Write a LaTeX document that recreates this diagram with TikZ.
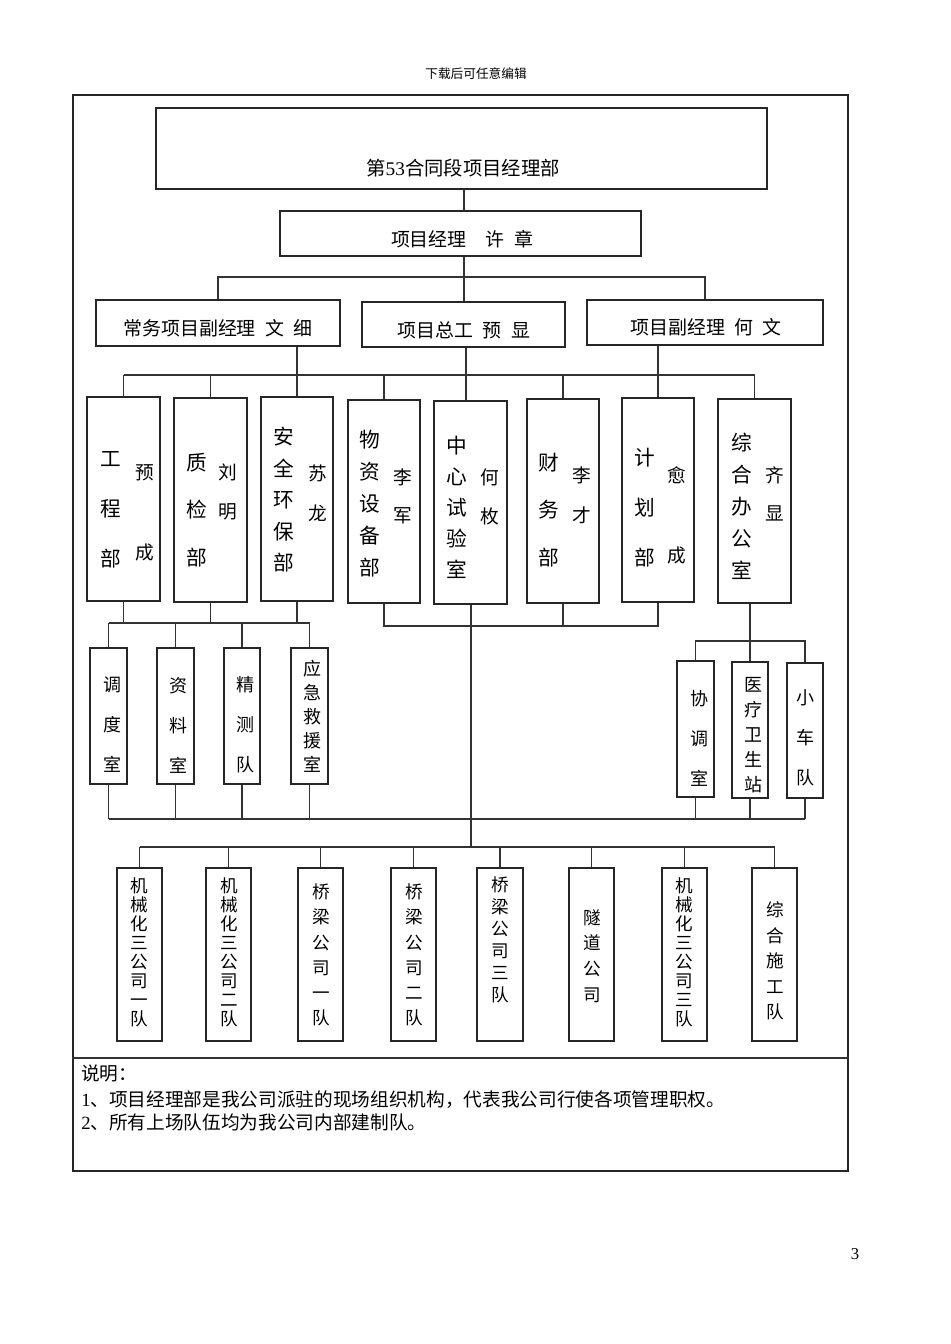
\documentclass[tikz,border=0pt]{standalone}
\usepackage{fontspec}
\setmainfont{Liberation Serif}
\newfontfamily\cjk{Noto Sans CJK SC}
\usetikzlibrary{fit}
\begin{document}
\begin{tikzpicture}[x=0.75pt,y=-0.75pt,
  box/.style={draw=black!85, line width=0.9pt, inner sep=0pt, rectangle},
  ln/.style={draw=black!80, line width=0.8pt},
  vt/.style 2 args={font=\cjk\fontsize{#1}{#2}\selectfont, align=center, inner sep=0pt},
  ht/.style={font=\cjk\fontsize{14.2}{17}\selectfont, inner sep=0pt}]
\useasboundingbox (0,0) rectangle (950,1344);
% header and page number
\node[font=\cjk\fontsize{9.5}{11}\selectfont, inner sep=0pt] (hdr) at (476,74) {下载后可任意编辑};
\node[font=\rmfamily\fontsize{12.5}{14}\selectfont, inner sep=0pt] (pg) at (855,1254) {3};
% frame
\node[box, fit={(73,95) (848,1171)}] (frame) {};
\coordinate (sep) at (0,1058);
\draw[ln] (frame.west |- sep) -- (frame.east |- sep);
% top
\node[box, fit={(156,108) (767,189)}] (T) {};
\node[font=\cjk\fontsize{14.5}{17}\selectfont, inner sep=0pt] (tT) at (463,168) {第{\rmfamily 53}合同段项目经理部};
\node[box, fit={(280,211) (641,256)}] (PM) {};
\node[ht] (tPM) at (462,239) {项目经理\hspace{1em}许\hspace{0.5em}章};
\node[box, fit={(96,300) (340,346)}] (A) {};
\node[ht] (tA) at (218,328) {常务项目副经理\hspace{0.5em}文\hspace{0.5em}细};
\node[box, fit={(362,302) (565,347)}] (B) {};
\node[ht] (tB) at (464,330) {项目总工\hspace{0.5em}预\hspace{0.5em}显};
\node[box, fit={(587,300) (823,345)}] (C) {};
\node[ht] (tC) at (706,327) {项目副经理\hspace{0.5em}何\hspace{0.5em}文};
% departments
\node[box, fit={(87,397) (160,601)}] (D1) {};
\node[box, fit={(174,398) (247,602)}] (D2) {};
\node[box, fit={(261,397) (333,601)}] (D3) {};
\node[box, fit={(348,400) (420,603)}] (D4) {};
\node[box, fit={(434,401) (507,604)}] (D5) {};
\node[box, fit={(527,399) (599,603)}] (D6) {};
\node[box, fit={(622,398) (694,602)}] (D7) {};
\node[box, fit={(718,399) (791,603)}] (D8) {};
\node[vt={15.5}{37.5}] (tD1a) at (111,510) {工\\程\\部};
\node[vt={14}{60}] (tD1b) at (145,513) {预\\成};
\node[vt={15.5}{35.6}] (tD2a) at (197,510) {质\\检\\部};
\node[vt={14}{29.25}] (tD2b) at (228,492) {刘\\明};
\node[vt={15.5}{23.6}] (tD3a) at (284,500) {安\\全\\环\\保\\部};
\node[vt={14}{30}] (tD3b) at (318,493) {苏\\龙};
\node[vt={15.5}{24}] (tD4a) at (370,504) {物\\资\\设\\备\\部};
\node[vt={14}{28.5}] (tD4b) at (403,496) {李\\军};
\node[vt={15.5}{23.25}] (tD5a) at (457,507) {中\\心\\试\\验\\室};
\node[vt={14}{29.25}] (tD5b) at (490,497) {何\\枚};
\node[vt={15.5}{35.6}] (tD6a) at (549,510) {财\\务\\部};
\node[vt={14}{30}] (tD6b) at (582,495) {李\\才};
\node[vt={15.5}{37.5}] (tD7a) at (645,508) {计\\划\\部};
\node[vt={14}{60}] (tD7b) at (677,515) {愈\\成};
\node[vt={15.5}{24}] (tD8a) at (742,506) {综\\合\\办\\公\\室};
\node[vt={14}{28.5}] (tD8b) at (775,494) {齐\\显};
% sub offices
\node[box, fit={(90,648) (127,784)}] (S1) {};
\node[box, fit={(157,648) (194,784)}] (S2) {};
\node[box, fit={(224,648) (260,784)}] (S3) {};
\node[box, fit={(291,648) (328,784)}] (S4) {};
\node[box, fit={(677,661) (714,797)}] (R1) {};
\node[box, fit={(732,662) (768,798)}] (R2) {};
\node[box, fit={(787,663) (823,798)}] (R3) {};
\node[vt={13.5}{30}] (tS1) at (112,725) {调\\度\\室};
\node[vt={13.5}{30}] (tS2) at (178,725) {资\\料\\室};
\node[vt={13.5}{30}] (tS3) at (245,725) {精\\测\\队};
\node[vt={13.5}{18}] (tS4) at (312,716) {应\\急\\救\\援\\室};
\node[vt={13.5}{30}] (tR1) at (699,738) {协\\调\\室};
\node[vt={13.5}{18.75}] (tR2) at (753,735) {医\\疗\\卫\\生\\站};
\node[vt={13.5}{30}] (tR3) at (805,738) {小\\车\\队};
% bottom teams
\node[box, fit={(117,868) (162,1041)}] (E1) {};
\node[box, fit={(206,868) (251,1041)}] (E2) {};
\node[box, fit={(298,868) (343,1041)}] (E3) {};
\node[box, fit={(391,868) (436,1041)}] (E4) {};
\node[box, fit={(477,868) (523,1041)}] (E5) {};
\node[box, fit={(569,868) (614,1041)}] (E6) {};
\node[box, fit={(662,868) (707,1041)}] (E7) {};
\node[box, fit={(752,868) (797,1041)}] (E8) {};
\node[vt={13.2}{14.25}] (tE1) at (139,952) {机\\械\\化\\三\\公\\司\\一\\队};
\node[vt={13.2}{14.25}] (tE2) at (229,952) {机\\械\\化\\三\\公\\司\\二\\队};
\node[vt={13.2}{18.9}] (tE3) at (321,955) {桥\\梁\\公\\司\\一\\队};
\node[vt={13.2}{18.9}] (tE4) at (414,955) {桥\\梁\\公\\司\\二\\队};
\node[vt={13.2}{16.5}] (tE5) at (500,940) {桥\\梁\\公\\司\\三\\队};
\node[vt={13.2}{19.3}] (tE6) at (592,956) {隧\\道\\公\\司};
\node[vt={13.2}{14.25}] (tE7) at (684,952) {机\\械\\化\\三\\公\\司\\三\\队};
\node[vt={13.2}{19.1}] (tE8) at (775,961) {综\\合\\施\\工\\队};
% notes
\node[anchor=west, font=\cjk\fontsize{14}{17}\selectfont, inner sep=0pt] (n0) at (81,1073) {说明：};
\node[anchor=west, font=\cjk\fontsize{14}{17}\selectfont, inner sep=0pt] (n1) at (81,1100) {{\rmfamily 1}、项目经理部是我公司派驻的现场组织机构，代表我公司行使各项管理职权。};
\node[anchor=west, font=\cjk\fontsize{14}{17}\selectfont, inner sep=0pt] (n2) at (81,1122) {{\rmfamily 2}、所有上场队伍均为我公司内部建制队。};
% connectors
\coordinate (xm) at (464,0);
\coordinate (xB) at (466,0);
\coordinate (xV) at (471,0);
\coordinate (b1) at (0,277);
\coordinate (b2) at (0,375);
\coordinate (b3) at (0,623);
\coordinate (b4) at (0,626);
\coordinate (b7) at (0,641);
\coordinate (b5) at (0,819);
\coordinate (b6) at (0,847);
\draw[ln] (T.south -| xm) -- (PM.north -| xm);
\draw[ln] (PM.south -| xm) -- (B.north -| xm);
\draw[ln] (A.north) -- (A.north |- b1) -- (C.north |- b1) -- (C.north);
\draw[ln] (A.south -| D3.north) -- (D3.north);
\draw[ln] (B.south -| xB) -- (D5.north -| xB);
\draw[ln] (C.south -| D7.north) -- (D7.north);
\draw[ln] (D1.north |- b2) -- (D8.north |- b2);
\foreach \n in {D1,D2,D4,D6,D8} \draw[ln] (\n.north) -- (\n.north |- b2);
\foreach \n in {D1,D2,D3} \draw[ln] (\n.south) -- (\n.south |- b3);
\draw[ln] (S1.north |- b3) -- (S4.north |- b3);
\foreach \n in {S1,S2,S3,S4} \draw[ln] (\n.north) -- (\n.north |- b3);
\draw[ln] (D4.south) -- (D4.south |- b4) -- (D7.south |- b4) -- (D7.south);
\draw[ln] (D6.south) -- (D6.south |- b4);
\draw[ln] (D5.south -| xV) -- (xV |- b6);
\draw[ln] (D8.south -| R2.north) -- (R2.north);
\draw[ln] (R1.north) -- (R1.north |- b7) -- (R3.north |- b7) -- (R3.north);
\draw[ln] (S1.south |- b5) -- (R3.south |- b5);
\foreach \n in {S1,S2,S3,S4,R1,R2,R3} \draw[ln] (\n.south) -- (\n.south |- b5);
\draw[ln] (E1.north |- b6) -- (E8.north |- b6);
\foreach \n in {E1,E2,E3,E4,E5,E6,E7,E8} \draw[ln] (\n.north) -- (\n.north |- b6);
\end{tikzpicture}
\end{document}
